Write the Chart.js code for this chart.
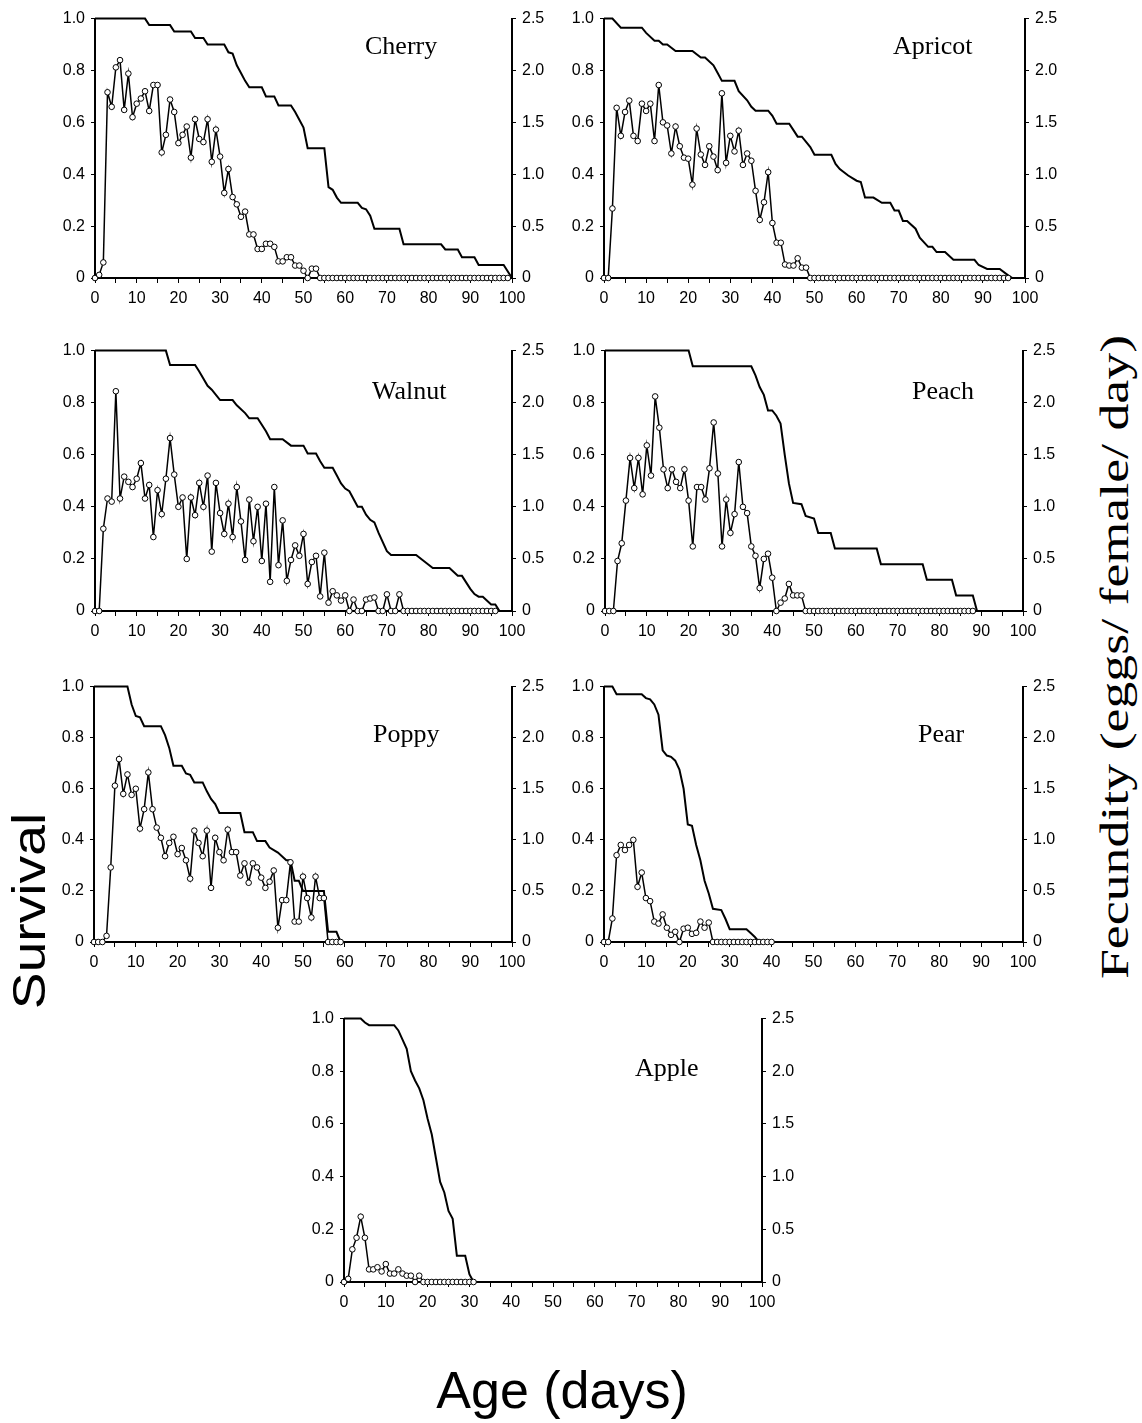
<!DOCTYPE html>
<html>
<head>
<meta charset="utf-8">
<script src="https://cdn.jsdelivr.net/npm/chart.js@4.4.1/dist/chart.umd.min.js"></script>
<style>
  html, body { margin: 0; padding: 0; background: #fff; }
  #page { position: relative; width: 1142px; height: 1423px; overflow: hidden; background: #fff; }
  #page canvas { position: absolute; }
  .big { position: absolute; white-space: nowrap; line-height: 1; color: #000; }
</style>
</head>
<body>
<div id="page">
  <div class="big" style="left:29px; top:911px; font-size:46px; font-family:'Liberation Sans', Arial, sans-serif; transform:translate(-50%,-50%) rotate(-90deg) scaleX(1.2);">Survival</div>
  <div class="big" style="left:1114px; top:657px; font-size:39px; font-family:'Liberation Serif', 'Times New Roman', serif; transform:translate(-50%,-50%) rotate(-90deg) scaleX(1.38);">Fecundity (eggs/ female/ day)</div>
  <div class="big" style="left:562px; top:1364px; font-size:52px; font-family:'Liberation Sans', Arial, sans-serif; transform:translateX(-50%);">Age (days)</div>
</div>
<script>
// ─── Data ────────────────────────────────────────────────────────
// survival: breakpoints (day, proportion alive); fecundity: eggs/female/day from day 0
const xTicks = [0, 10, 20, 30, 40, 50, 60, 70, 80, 90, 100];
const survTicks = [0, 0.2, 0.4, 0.6, 0.8, 1.0];
const fecTicks = [0, 0.5, 1.0, 1.5, 2.0, 2.5];

const cherrySurvDays = [0,12,13,18,19,23,24,26,27,31,32,33,34,35,36,37,40,41,43,44,47,48,49,50,51,55,56,57,58,59,63,64,65,66,67,73,74,83,84,87,88,91,92,98,100];
const cherrySurv = [1,1,0.975,0.975,0.95,0.95,0.925,0.925,0.9,0.9,0.87,0.865,0.82,0.79,0.76,0.735,0.735,0.7,0.7,0.665,0.665,0.64,0.61,0.58,0.5,0.5,0.35,0.34,0.31,0.29,0.29,0.27,0.265,0.24,0.19,0.19,0.13,0.13,0.11,0.11,0.08,0.08,0.05,0.05,0];
const cherryFec = [0,0.03,0.15,1.79,1.65,2.03,2.1,1.62,1.97,1.55,1.68,1.73,1.8,1.61,1.86,1.86,1.21,1.38,1.72,1.6,
  1.3,1.38,1.46,1.16,1.53,1.34,1.31,1.53,1.12,1.43,1.17,0.82,1.05,0.78,0.71,0.59,0.64,0.42,0.42,0.28,
  0.28,0.33,0.33,0.3,0.16,0.16,0.2,0.2,0.12,0.12,0.07,0,0.09,0.09,0,0,0,0,0,0,
  0,0,0,0,0,0,0,0,0,0,0,0,0,0,0,0,0,0,0,0,
  0,0,0,0,0,0,0,0,0,0,0,0,0,0,0,0,0,0,0,0];

const apricotSurvDays = [0,2,4,9,10,12,13,14,15,17,21,23,24,26,27,28,31,32,34,35,36,39,40,41,44,45,46,47,49,50,54,55,56,58,60,61,62,64,66,68,69,70,71,72,74,75,77,78,79,81,83,88,89,91,94,96,97,100];
const apricotSurv = [1,1,0.965,0.965,0.945,0.915,0.915,0.9,0.9,0.875,0.875,0.85,0.85,0.82,0.79,0.76,0.76,0.72,0.685,0.66,0.645,0.645,0.625,0.595,0.595,0.57,0.545,0.545,0.505,0.475,0.475,0.44,0.42,0.395,0.375,0.37,0.31,0.31,0.29,0.29,0.26,0.26,0.22,0.22,0.19,0.155,0.12,0.12,0.1,0.1,0.07,0.07,0.05,0.035,0.035,0.01,0,0];
const apricotFec = [0,0,0.67,1.64,1.37,1.6,1.71,1.37,1.32,1.68,1.61,1.68,1.32,1.86,1.5,1.47,1.2,1.46,1.27,1.16,
  1.15,0.9,1.44,1.19,1.09,1.27,1.17,1.04,1.78,1.11,1.37,1.22,1.42,1.09,1.2,1.13,0.84,0.56,0.73,1.02,
  0.53,0.34,0.34,0.13,0.12,0.12,0.19,0.1,0.1,0,0,0,0,0,0,0,0,0,0,0,
  0,0,0,0,0,0,0,0,0,0,0,0,0,0,0,0,0,0,0,0,
  0,0,0,0,0,0,0,0,0,0,0,0,0,0,0,0,0];

const walnutSurvDays = [0,17,18,24,25,27,28,29,30,33,34,36,37,39,41,42,45,47,50,51,53,54,55,57,58,59,60,61,62,63,64,65,66,67,68,70,71,77,79,81,85,87,88,90,91,92,93,95,96,97,100];
const walnutSurv = [1,1,0.945,0.945,0.92,0.865,0.85,0.83,0.81,0.81,0.79,0.76,0.74,0.74,0.69,0.66,0.66,0.635,0.635,0.605,0.605,0.575,0.55,0.55,0.52,0.49,0.47,0.46,0.43,0.4,0.4,0.37,0.35,0.34,0.3,0.23,0.215,0.215,0.19,0.165,0.165,0.135,0.135,0.085,0.065,0.055,0.055,0.025,0.025,0,0];
const walnutFec = [0,0,0.79,1.08,1.05,2.11,1.08,1.29,1.24,1.19,1.27,1.42,1.08,1.21,0.71,1.16,0.93,1.27,1.66,1.31,
  1.0,1.09,0.5,1.09,0.92,1.23,1.0,1.3,0.57,1.23,0.94,0.74,1.03,0.71,1.19,0.86,0.49,1.07,0.67,1.0,
  0.48,1.03,0.28,1.19,0.44,0.87,0.29,0.49,0.63,0.53,0.74,0.26,0.47,0.53,0.14,0.56,0.08,0.19,0.15,0.1,
  0.15,0,0.11,0,0,0.11,0.12,0.13,0,0,0.16,0,0,0.16,0,0,0,0,0,0,
  0,0,0,0,0,0,0,0,0,0,0,0,0,0,0,0,0];

const peachSurvDays = [0,20,21,35,36,37,38,39,40,41,42,43,44,45,47,48,50,51,54,55,65,66,76,77,83,84,88,89,100];
const peachSurv = [1,1,0.94,0.94,0.905,0.86,0.83,0.77,0.77,0.75,0.72,0.6,0.49,0.415,0.41,0.365,0.355,0.3,0.3,0.24,0.24,0.18,0.18,0.12,0.12,0.06,0.06,0,0];
const peachFec = [0,0,0,0.48,0.65,1.06,1.47,1.18,1.47,1.12,1.59,1.3,2.06,1.76,1.36,1.18,1.36,1.24,1.18,1.36,
  1.06,0.62,1.19,1.19,1.07,1.37,1.81,1.32,0.62,1.07,0.75,0.93,1.43,1.0,0.94,0.62,0.53,0.22,0.5,0.55,
  0.32,0,0.08,0.12,0.26,0.15,0.15,0.15,0,0,0,0,0,0,0,0,0,0,0,0,
  0,0,0,0,0,0,0,0,0,0,0,0,0,0,0,0,0,0,0,0,
  0,0,0,0,0,0,0,0,0];

const poppySurvDays = [0,8,9,10,11,12,16,17,18,19,21,22,23,24,26,27,28,29,30,35,36,38,39,41,42,44,46,47,48,49,50,55,56,58,59,100];
const poppySurv = [1,1,0.93,0.885,0.88,0.845,0.845,0.81,0.76,0.69,0.69,0.66,0.655,0.625,0.625,0.59,0.56,0.54,0.505,0.505,0.43,0.43,0.395,0.395,0.37,0.35,0.32,0.32,0.24,0.24,0.2,0.2,0.04,0.04,0,0];
const poppyFec = [0,0,0,0.06,0.73,1.53,1.79,1.45,1.64,1.44,1.5,1.11,1.3,1.66,1.3,1.12,1.02,0.84,0.97,1.03,
  0.86,0.92,0.8,0.62,1.09,0.97,0.84,1.09,0.53,1.02,0.88,0.8,1.1,0.88,0.88,0.65,0.77,0.58,0.77,0.73,
  0.63,0.53,0.59,0.7,0.14,0.41,0.41,0.78,0.2,0.2,0.64,0.43,0.24,0.64,0.43,0.43,0,0,0,0];

const pearSurvDays = [0,2,3,9,10,11,12,13,14,15,16,17,18,19,20,21,22,23,24,25,26,28,29,30,34,35,36,37,100];
const pearSurv = [1,1,0.97,0.97,0.955,0.95,0.93,0.89,0.75,0.73,0.725,0.71,0.675,0.6,0.46,0.455,0.38,0.32,0.24,0.19,0.13,0.125,0.09,0.05,0.05,0.035,0.02,0,0];
const pearFec = [0,0,0.23,0.85,0.95,0.9,0.95,1.0,0.54,0.68,0.43,0.4,0.2,0.18,0.27,0.14,0.07,0.1,0,0.13,
  0.14,0.08,0.09,0.2,0.14,0.19,0,0,0,0,0,0,0,0,0,0,0,0,0,0,0];

const appleSurvDays = [0,4,5,6,12,13,14,15,16,17,18,19,20,21,22,23,24,25,26,27,29,30,31,100];
const appleSurv = [1,1,0.985,0.975,0.975,0.955,0.92,0.885,0.8,0.765,0.735,0.69,0.62,0.56,0.47,0.38,0.34,0.27,0.24,0.1,0.1,0.03,0,0];
const appleFec = [0,0.03,0.31,0.42,0.62,0.42,0.12,0.12,0.14,0.1,0.17,0.08,0.08,0.12,0.08,0.06,0.06,0,0.06,0,
  0,0,0,0,0,0,0,0,0,0,0,0];

// ─── Layout (plot area boxes in page pixels, name offset inside plot) ──
const panels = [
  { name: "Cherry",  box: [95, 15, 512, 278],   nameAt: [270, 35], days: cherrySurvDays,  surv: cherrySurv,  fec: cherryFec },
  { name: "Apricot", box: [604, 15, 1025, 278], nameAt: [289, 35], days: apricotSurvDays, surv: apricotSurv, fec: apricotFec },
  { name: "Walnut",  box: [95, 347, 512, 611],  nameAt: [277, 48], days: walnutSurvDays,  surv: walnutSurv,  fec: walnutFec },
  { name: "Peach",   box: [605, 347, 1023, 611], nameAt: [307, 48], days: peachSurvDays,  surv: peachSurv,   fec: peachFec },
  { name: "Poppy",   box: [94, 683, 512, 942],  nameAt: [279, 55], days: poppySurvDays,   surv: poppySurv,   fec: poppyFec },
  { name: "Pear",    box: [604, 683, 1023, 942], nameAt: [314, 55], days: pearSurvDays,   surv: pearSurv,    fec: pearFec },
  { name: "Apple",   box: [344, 1015, 762, 1282], nameAt: [291, 57], days: appleSurvDays, surv: appleSurv,   fec: appleFec },
];

const PAD_L = 60, PAD_R = 60, PAD_T = 12, PAD_B = 42;
const SANS = "'Liberation Sans', Arial, sans-serif";
const SERIF = "'Liberation Serif', 'Times New Roman', serif";

// draws the host plant name inside the plot area
const panelName = {
  id: "panelName",
  afterDatasetsDraw(chart, args, opts) {
    const { ctx, chartArea } = chart;
    ctx.save();
    ctx.font = "26px " + SERIF;
    ctx.fillStyle = "#000";
    ctx.textAlign = "left";
    ctx.textBaseline = "alphabetic";
    ctx.fillText(opts.text, chartArea.left + opts.dx, chartArea.top + opts.dy);
    ctx.restore();
  },
};

function numLabel(v) {
  return Math.abs(v) < 1e-9 ? "0" : Number(v).toFixed(1);
}

function axisBase(extra) {
  return Object.assign({
    border: { display: true, color: "#000", width: 2 },
    grid: { drawOnChartArea: false, drawTicks: true, tickLength: 4, color: "#000", lineWidth: 1 },
  }, extra);
}

// ─── Charts ──────────────────────────────────────────────────────
const page = document.getElementById("page");

panels.forEach((p) => {
  const [l, t, r, b] = p.box;
  const w = (r - l) + PAD_L + PAD_R;
  const h = (b - t) + PAD_T + PAD_B;
  const cv = document.createElement("canvas");
  cv.width = w; cv.height = h;
  cv.style.left = (l - PAD_L) + "px";
  cv.style.top = (t - PAD_T) + "px";
  cv.style.width = w + "px";
  cv.style.height = h + "px";
  page.appendChild(cv);

  const survData = p.days.map((d, i) => ({ x: d, y: p.surv[i] }));
  const fecData = p.fec.map((v, i) => ({ x: i, y: v }));

  new Chart(cv, {
    type: "line",
    data: {
      datasets: [
        {
          label: "Fecundity",
          data: fecData,
          yAxisID: "y2",
          borderColor: "#000",
          borderWidth: 1.5,
          pointRadius: 2.8,
          pointBackgroundColor: "#fff",
          pointBorderColor: "#000",
          pointBorderWidth: 1,
          tension: 0,
          clip: false,
          order: 0,
        },
        {
          label: "Survival",
          data: survData,
          yAxisID: "y",
          borderColor: "#000",
          borderWidth: 2,
          pointRadius: 0,
          tension: 0,
          clip: false,
          order: 1,
        },
      ],
    },
    options: {
      responsive: false,
      animation: false,
      devicePixelRatio: 1,
      layout: { padding: { top: PAD_T, left: 0, right: 0, bottom: 0 } },
      plugins: {
        legend: { display: false },
        tooltip: { enabled: false },
        panelName: { text: p.name, dx: p.nameAt[0], dy: p.nameAt[1] },
      },
      scales: {
        x: axisBase({
          type: "linear",
          position: "bottom",
          min: xTicks[0],
          max: xTicks[xTicks.length - 1],
          grid: { drawOnChartArea: false, drawTicks: true, tickLength: 5, color: "#000", lineWidth: 1 },
          ticks: {
            stepSize: 5,
            autoSkip: false,
            maxRotation: 0,
            minRotation: 0,
            padding: 6,
            color: "#000",
            font: { family: SANS, size: 16 },
            callback: (v) => (xTicks.includes(v) ? String(v) : ""),
          },
          afterFit: (s) => { s.height = PAD_B; },
        }),
        y: axisBase({
          position: "left",
          min: survTicks[0],
          max: survTicks[survTicks.length - 1],
          ticks: {
            stepSize: 0.2,
            padding: 6,
            color: "#000",
            font: { family: SANS, size: 16 },
            callback: numLabel,
          },
          afterFit: (s) => { s.width = PAD_L; },
        }),
        y2: axisBase({
          position: "right",
          min: fecTicks[0],
          max: fecTicks[fecTicks.length - 1],
          ticks: {
            stepSize: 0.5,
            padding: 6,
            color: "#000",
            font: { family: SANS, size: 16 },
            callback: numLabel,
          },
          afterFit: (s) => { s.width = PAD_R; },
        }),
      },
    },
    plugins: [panelName],
  });
});
</script>
</body>
</html>
